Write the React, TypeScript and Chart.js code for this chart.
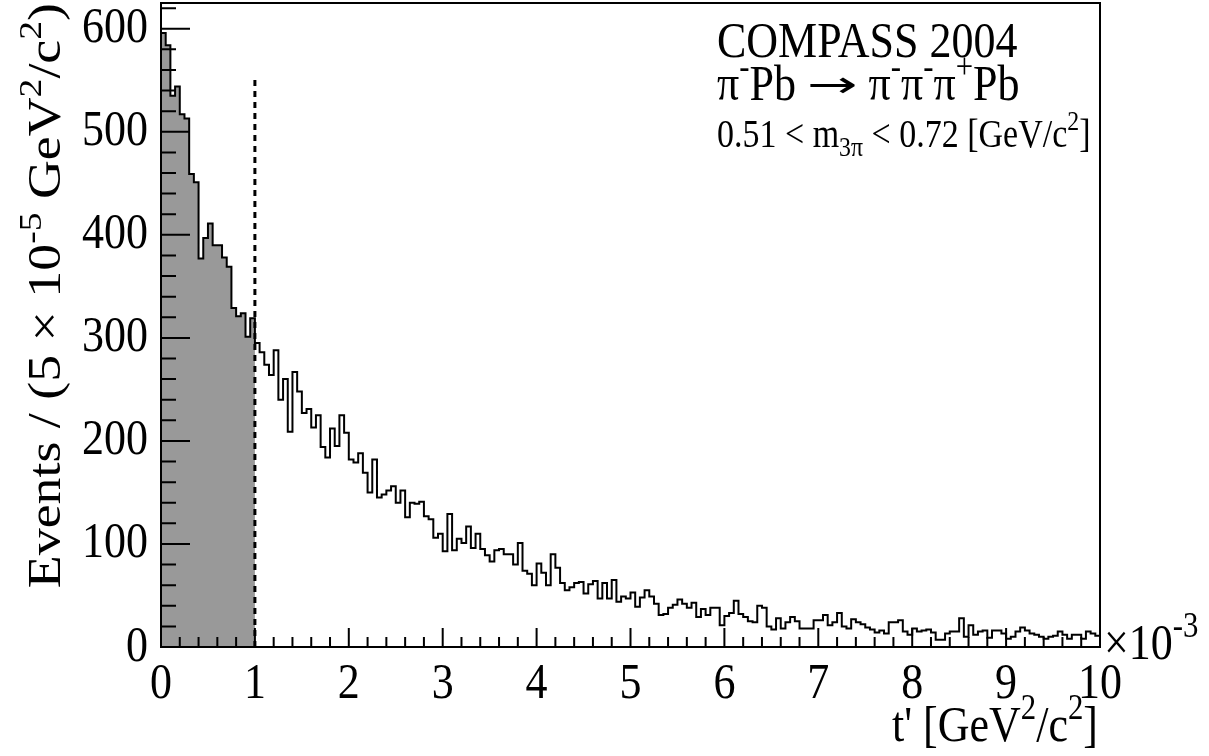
import React, { useEffect, useRef } from 'react';
import { Chart, registerables } from 'chart.js';

Chart.register(...registerables);

// Events per bin of t' (bin width 5e-5 GeV^2/c^2), t' from 0 to 0.01 (200 bins)
const eventsPerBin: number[] = [
  596, 584, 535, 544, 517, 513, 459, 451, 377, 397,
  411, 390, 390, 378, 369, 329, 321, 324, 301, 319,
  295, 286, 274, 264, 288, 240, 260, 209, 267, 248,
  227, 231, 213, 225, 194, 184, 212, 195, 225, 208,
  182, 179, 188, 169, 150, 182, 145, 148, 152, 156,
  140, 152, 126, 140, 139, 141, 127, 124, 106, 110,
  93, 129, 94, 105, 101, 117, 96, 110, 95, 89,
  83, 94, 95, 90, 90, 80, 101, 74, 71, 60,
  81, 72, 60, 90, 77, 62, 55, 58, 62, 63,
  52, 61, 64, 47, 62, 47, 65, 44, 49, 47,
  53, 39, 48, 55, 49, 42, 31, 32, 38, 41,
  46, 42, 38, 43, 29, 37, 31, 38, 38, 21,
  30, 33, 45, 32, 29, 25, 24, 40, 38, 20,
  17, 28, 18, 24, 29, 25, 18, 18, 18, 26,
  26, 31, 21, 24, 33, 20, 18, 27, 24, 22,
  19, 17, 14, 16, 13, 24, 24, 26, 15, 12,
  18, 15, 16, 17, 14, 7, 7, 13, 15, 15,
  28, 10, 21, 12, 15, 16, 9, 16, 16, 13,
  8, 10, 15, 19, 16, 13, 12, 10, 8, 10,
  11, 15, 12, 8, 12, 12, 8, 15, 13, 11,
];

const binWidth = 0.05; // in units of 10^-3 GeV^2/c^2
const xMin = 0;
const xMax = 10;
const yMin = 0;
const yMax = 625;
const cutPosition = 1; // t' cut at 1e-3
const cutLineHeight = 552;
const xTickValues = [0, 1, 2, 3, 4, 5, 6, 7, 8, 9, 10];
const yTickValues = [0, 100, 200, 300, 400, 500, 600];
const xMinorStep = 0.2;
const yMinorStep = 20;

const FONT = '"Liberation Serif", "Times New Roman", serif';
const TEXT_STRETCH = 1.17;

type Seg = { t: string; k?: 'sup' | 'sub'; f?: string; wEm?: number; sz?: number; dyEm?: number };

function segSize(seg: Seg, size: number) {
  const base = seg.k ? size * 0.7 : size;
  return base * (seg.sz || 1);
}

function segFont(seg: Seg, size: number) {
  return `${segSize(seg, size)}px ${seg.f || FONT}`;
}

function drawRich(
  ctx: CanvasRenderingContext2D,
  segs: Seg[],
  x: number,
  y: number,
  size: number,
  align: 'left' | 'right'
) {
  ctx.textAlign = 'left';
  ctx.textBaseline = 'alphabetic';
  let total = 0;
  const info = segs.map((s) => {
    ctx.font = segFont(s, size);
    const natural = ctx.measureText(s.t).width;
    const w = s.wEm ? s.wEm * size : natural;
    total += w;
    return { w, sx: s.wEm ? w / natural : 1 };
  });
  let cx = align === 'right' ? x - total : x;
  segs.forEach((s, i) => {
    ctx.font = segFont(s, size);
    let dy = s.k === 'sup' ? -0.42 * size : s.k === 'sub' ? 0.22 * size : 0;
    if (s.dyEm) dy += s.dyEm * size;
    if (info[i].sx !== 1) {
      ctx.save();
      ctx.translate(cx, y + dy);
      ctx.scale(info[i].sx, 1);
      ctx.fillText(s.t, 0, 0);
      ctx.restore();
    } else {
      ctx.fillText(s.t, cx, y + dy);
    }
    cx += info[i].w;
  });
}

function drawText(
  ctx: CanvasRenderingContext2D,
  segs: Seg[],
  x: number,
  y: number,
  size: number,
  align: 'left' | 'right',
  vertical = false
) {
  ctx.save();
  ctx.translate(x, y);
  if (vertical) {
    ctx.rotate(-Math.PI / 2);
    ctx.scale(TEXT_STRETCH, 1);
  } else {
    ctx.scale(1, TEXT_STRETCH);
  }
  drawRich(ctx, segs, 0, 0, size, align);
  ctx.restore();
}

// make the axis tick labels of a scale taller, like the reference typeface
function stretchScaleLabels(s: any) {
  if (s.__stretched) return;
  s.__stretched = true;
  const orig = s.drawLabels;
  s.drawLabels = function (area: any) {
    const ctx = this.ctx;
    const proto = Object.getPrototypeOf(ctx);
    ctx.rotate = function (a: number) {
      proto.rotate.call(this, a);
      proto.scale.call(this, 1, TEXT_STRETCH);
    };
    try {
      orig.call(this, area);
    } finally {
      delete ctx.rotate;
    }
  };
}

const yTitle: Seg[] = [
  { t: 'Events / (5 \u00d7 10' },
  { t: '-5', k: 'sup' },
  { t: ' GeV' },
  { t: '2', k: 'sup' },
  { t: '/c' },
  { t: '2', k: 'sup' },
  { t: ')' },
];
const xTitle: Seg[] = [
  { t: "t' [GeV" },
  { t: '2', k: 'sup' },
  { t: '/c' },
  { t: '2', k: 'sup' },
  { t: ']' },
];
const xExponent: Seg[] = [{ t: '\u00d710' }, { t: '-3', k: 'sup' }];
const line1: Seg[] = [{ t: 'COMPASS 2004' }];
const line2: Seg[] = [
  { t: '\u03c0' },
  { t: '-', k: 'sup' },
  { t: 'Pb ' },
  { t: '\u2192', f: '"DejaVu Sans", sans-serif', wEm: 1.15, sz: 0.72, dyEm: -0.06 },
  { t: ' \u03c0' },
  { t: '-', k: 'sup' },
  { t: '\u03c0' },
  { t: '-', k: 'sup' },
  { t: '\u03c0' },
  { t: '+', k: 'sup' },
  { t: 'Pb' },
];
const line3: Seg[] = [
  { t: '0.51 < m' },
  { t: '3\u03c0', k: 'sub' },
  { t: ' < 0.72 [GeV/c' },
  { t: '2', k: 'sup' },
  { t: ']' },
];

const rootStylePlugin = {
  id: 'rootStyle',
  afterDatasetsDraw(chart: any) {
    const ctx: CanvasRenderingContext2D = chart.ctx;
    const { left, right, top, bottom } = chart.chartArea;
    const xs = chart.scales.x;
    const ys = chart.scales.y;
    ctx.save();
    ctx.strokeStyle = '#000';
    ctx.lineWidth = 2;
    ctx.beginPath();
    // x ticks (inside, upward)
    const nx = Math.round((xMax - xMin) / xMinorStep);
    for (let i = 0; i <= nx; i++) {
      const v = xMin + i * xMinorStep;
      const px = xs.getPixelForValue(v);
      const major = i % 5 === 0;
      const len = major ? 19 : 10;
      ctx.moveTo(px, bottom);
      ctx.lineTo(px, bottom - len);
    }
    // y ticks (inside, rightward)
    const ny = Math.floor((yMax - yMin) / yMinorStep);
    for (let i = 0; i <= ny; i++) {
      const v = yMin + i * yMinorStep;
      const py = ys.getPixelForValue(v);
      const major = i % 5 === 0;
      const len = major ? 29 : 15;
      ctx.moveTo(left, py);
      ctx.lineTo(left + len, py);
    }
    ctx.stroke();
    ctx.strokeRect(left, top, right - left, bottom - top);
    ctx.restore();
  },
  afterDraw(chart: any) {
    const ctx: CanvasRenderingContext2D = chart.ctx;
    ctx.save();
    ctx.fillStyle = '#000';
    drawText(ctx, yTitle, 60, 3, 46, 'right', true);
    drawText(ctx, xTitle, 1098, 741, 44, 'right');
    drawText(ctx, xExponent, 1104, 659, 44, 'left');
    drawText(ctx, line1, 717, 57, 44, 'left');
    drawText(ctx, line2, 717, 100, 44, 'left');
    drawText(ctx, line3, 717, 147, 34, 'left');
    ctx.restore();
  },
};

export default function App() {
  const canvasRef = useRef<HTMLCanvasElement | null>(null);

  useEffect(() => {
    document.body.style.margin = '0';
    const canvas = canvasRef.current;
    if (!canvas) return;

    const outline = eventsPerBin.map((v, i) => ({ x: xMin + i * binWidth, y: v }));
    outline.push({ x: xMin + eventsPerBin.length * binWidth, y: eventsPerBin[eventsPerBin.length - 1] });

    const nCut = Math.round((cutPosition - xMin) / binWidth);
    const shaded = eventsPerBin.slice(0, nCut).map((v, i) => ({ x: xMin + i * binWidth, y: v }));
    shaded.push({ x: cutPosition, y: eventsPerBin[nCut - 1] });

    const cutLine = [
      { x: cutPosition, y: 0 },
      { x: cutPosition, y: cutLineHeight },
    ];

    const tickFont = { family: FONT, size: 44 };

    const chart = new Chart(canvas, {
      type: 'line',
      data: {
        datasets: [
          {
            label: 'cut',
            data: cutLine,
            borderColor: '#000',
            borderWidth: 3,
            borderDash: [6, 5],
            pointRadius: 0,
            fill: false,
            order: 0,
          },
          {
            label: 'all',
            data: outline,
            stepped: true,
            borderColor: '#000',
            borderWidth: 2,
            pointRadius: 0,
            fill: false,
            order: 1,
          },
          {
            label: 'selected',
            data: shaded,
            stepped: true,
            borderColor: 'rgba(0,0,0,0)',
            borderWidth: 0,
            backgroundColor: '#999999',
            pointRadius: 0,
            fill: 'origin',
            order: 3,
          },
        ],
      },
      options: {
        animation: false,
        responsive: false,
        devicePixelRatio: 1,
        layout: { padding: { left: 0, top: 3, right: 109, bottom: 0 } },
        plugins: {
          legend: { display: false },
          tooltip: { enabled: false },
          title: { display: false },
        },
        scales: {
          x: {
            type: 'linear',
            min: xMin,
            max: xMax,
            grid: { display: false, drawTicks: false },
            border: { display: false },
            ticks: {
              color: '#000',
              font: tickFont,
              padding: 7,
              autoSkip: false,
              maxRotation: 0,
              minRotation: 0,
              callback: (v: any) => String(v),
            },
            afterBuildTicks: (s: any) => {
              s.ticks = xTickValues.map((v) => ({ value: v }));
            },
            afterFit: (s: any) => {
              s.height = 109;
              s.paddingLeft = 0;
              s.paddingRight = 0;
              stretchScaleLabels(s);
            },
          },
          y: {
            type: 'linear',
            min: yMin,
            max: yMax,
            grid: { display: false, drawTicks: false },
            border: { display: false },
            ticks: {
              color: '#000',
              font: tickFont,
              padding: 13,
              autoSkip: false,
              callback: (v: any) => String(v),
            },
            afterBuildTicks: (s: any) => {
              s.ticks = yTickValues.map((v) => ({ value: v }));
            },
            afterFit: (s: any) => {
              s.width = 161;
              s.paddingTop = 0;
              s.paddingBottom = 0;
              stretchScaleLabels(s);
            },
          },
        },
      },
      plugins: [rootStylePlugin],
    } as any);

    return () => {
      chart.destroy();
    };
  }, []);

  return (
    <div style={{ position: 'fixed', left: 0, top: 0, width: 1209, height: 756, background: '#fff' }}>
      <canvas ref={canvasRef} width={1209} height={756} style={{ width: 1209, height: 756, display: 'block' }} />
    </div>
  );
}
